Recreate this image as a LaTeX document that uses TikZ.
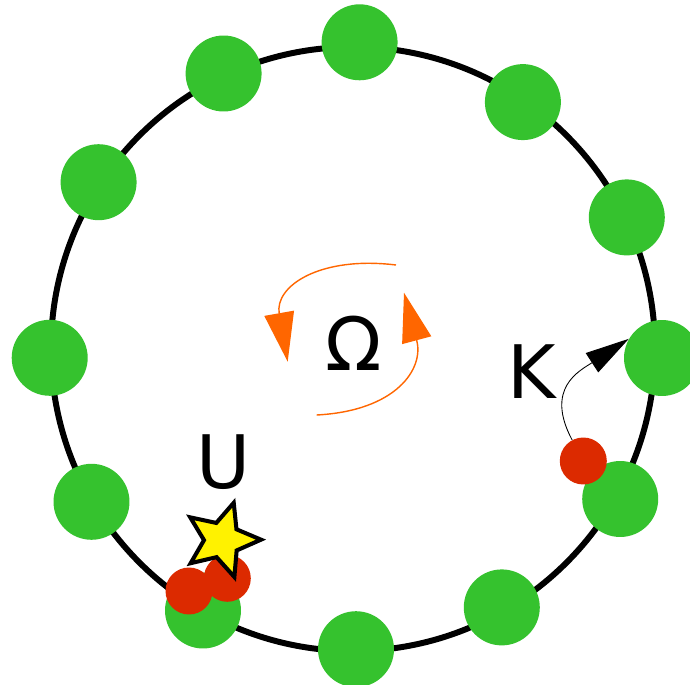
\documentclass[tikz,border=0pt]{standalone}
\usepackage{fontspec}
\setmainfont{DejaVu Sans}
\usetikzlibrary{arrows.meta}
\definecolor{dotgreen}{RGB}{53,194,46}
\definecolor{dotred}{RGB}{220,42,0}
\definecolor{spinorange}{RGB}{255,102,0}

\begin{document}
\begin{tikzpicture}[x=0.02cm, y=0.02cm,
    gdot/.style={circle, fill=dotgreen, inner sep=0pt, minimum size=1.52cm},
    rdot/.style={circle, fill=dotred, inner sep=0pt, minimum size=0.94cm},
    biglabel/.style={inner sep=0pt, font=\fontsize{42}{50}\selectfont},
    spin/.style={spinorange, line width=0.8pt, -{Triangle[length=28pt, width=17pt]}},
    kjump/.style={black, line width=0.5pt, -{Triangle[length=25pt, width=13pt]}}]
    \useasboundingbox (0,0) rectangle (690,684);

    % the ring
    \draw[line width=3.4pt] (353,335) circle (302);

    % sites on the ring
    \foreach \n/\x/\y in {g1/359.6/641.7, g2/522.9/581.9, g3/626.8/466.6,
        g4/662/326, g5/620.2/185, g6/501.8/76.6, g7/356/34.8, g8/203/73.5,
        g9/91.5/182.2, g10/49.7/326.2, g11/98.6/501.8, g12/223.6/610.5} {
        \node[gdot] (\n) at (\x,\y) {};
    }

    % particles
    \node[rdot] (r1) at (583.3,223) {};
    \node[rdot] (r2) at (189,93) {};
    \node[rdot] (r3) at (227.3,105.7) {};

    % the star
    \draw[fill=yellow, line width=2.3pt, miter limit=10]
        (222,144) +(0.5:39) -- +(36.5:18) -- +(72.5:39) -- +(108.5:18)
        -- +(144.5:39) -- +(180.5:18) -- +(216.5:39) -- +(252.5:18)
        -- +(288.5:39) -- +(324.5:18) -- cycle;

    % labels
    \node[biglabel] (ulab) at (223.8,222) {U};
    \node[biglabel] (klab) at (531.5,312.5) {K};
    \node[biglabel] (omlab) at (353.8,341) {Ω};

    % rotation arrows
    \coordinate (oa1) at (396,419);
    \coordinate (oa2) at (287.7,322.3);
    \coordinate (ob1) at (316.7,269);
    \coordinate (ob2) at (404,391.3);
    \draw[spin] (oa1) to[out=173, in=100, looseness=1.35] (oa2);
    \draw[spin] (ob1) to[out=3, in=-75, looseness=1.35] (ob2);

    % hop
    \draw[kjump] (r1.118) to[out=118, in=213, looseness=1.3] (g4.150);
\end{tikzpicture}
\end{document}
